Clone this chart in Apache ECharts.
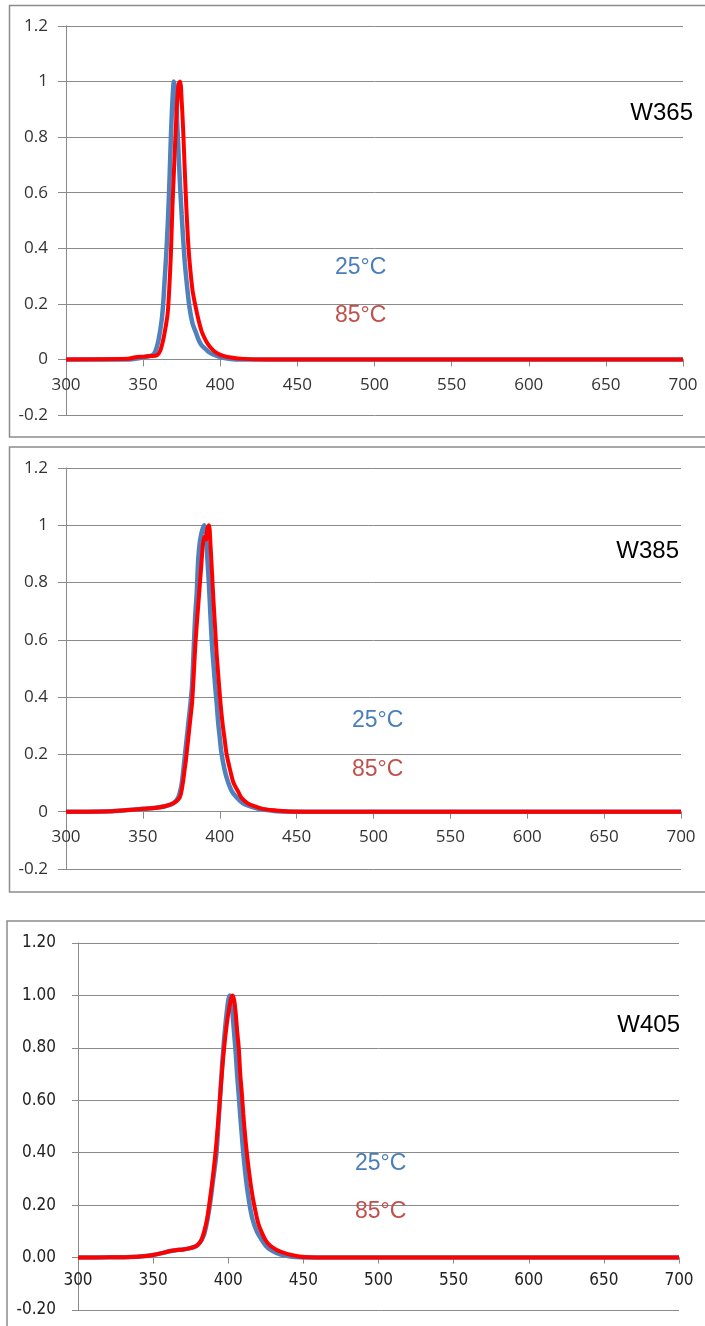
<!DOCTYPE html>
<html>
<head>
<meta charset="utf-8">
<script src="https://cdn.jsdelivr.net/npm/echarts@6/dist/echarts.min.js"></script>
<style>
html,body{margin:0;padding:0;background:#fff;}
#chart{width:705px;height:1326px;}
</style>
</head>
<body>
<div id="chart"></div>
<script>
// ---- Data (wavelength nm, relative intensity) ----
var panelNames = ['W365', 'W385', 'W405'];
var tempLabels = ['25°C', '85°C'];

var w365_25_nm  = [300,340,348,352,356,358,360,362,363,364,365,366,367,368,369,370,371,372,373,374,375,376,377,378,380,382,384,386,388,390,393,396,400,405,410,450,500,600,700];
var w365_25_val = [0,0,0.005,0.01,0.015,0.03,0.07,0.14,0.2,0.29,0.38,0.49,0.63,0.8,0.93,1.0,0.96,0.86,0.74,0.62,0.52,0.43,0.35,0.29,0.19,0.13,0.1,0.07,0.05,0.04,0.025,0.017,0.008,0.003,0,0,0,0,0];

var w365_85_nm  = [300,340,345,350,355,359,361,363,365,366,367,368,369,370,371,372,373,374,375,376,377,378,379,380,382,384,386,388,390,392,395,398,402,407,415,430,500,600,700];
var w365_85_val = [0,0.002,0.008,0.01,0.012,0.015,0.03,0.07,0.13,0.17,0.26,0.38,0.55,0.68,0.81,0.92,0.99,1.0,0.93,0.82,0.68,0.55,0.44,0.36,0.25,0.19,0.14,0.1,0.075,0.055,0.035,0.022,0.013,0.007,0.002,0,0,0,0];

var w385_25_nm  = [300,330,345,350,358,365,370,373,375,376,377,378,379,380,381,382,383,384,385,386,387,388,389,390,391,392,393,394,395,396,397,398,399,400,401,403,405,408,411,415,419,425,432,440,460,500,600,700];
var w385_25_val = [0,0.002,0.008,0.01,0.014,0.02,0.03,0.05,0.09,0.13,0.18,0.23,0.28,0.33,0.38,0.44,0.56,0.68,0.76,0.88,0.94,0.97,0.99,1.0,0.97,0.88,0.79,0.68,0.58,0.51,0.44,0.38,0.31,0.26,0.21,0.15,0.11,0.07,0.05,0.03,0.02,0.01,0.005,0.001,0,0,0,0];

var w385_85_nm  = [300,330,345,350,358,365,370,374,376,377,378,379,380,381,382,383,384,385,386,387,388,389,390,391,392,393,394,395,396,397,398,399,400,401,402,403,404.5,407,409,412,414,418,422,428,435,445,470,500,600,700];
var w385_85_val = [0,0.002,0.008,0.01,0.013,0.02,0.03,0.05,0.1,0.14,0.18,0.23,0.28,0.33,0.38,0.47,0.57,0.65,0.72,0.79,0.86,0.93,0.96,0.95,0.99,1.0,0.93,0.83,0.73,0.64,0.55,0.48,0.41,0.35,0.3,0.26,0.2,0.14,0.1,0.07,0.05,0.03,0.02,0.01,0.005,0.001,0,0,0,0];

var w405_25_nm  = [300,320,335,345,350,355,360,365,370,374,378,380,382,384,386,388,390,392,394,396,398,400,401,402,403,404,405,406,407,408,409,410,412,414,416,419,422,425,428,432,437,445,460,500,600,700];
var w405_25_val = [0,0.001,0.002,0.006,0.01,0.016,0.023,0.028,0.031,0.035,0.042,0.05,0.065,0.09,0.14,0.21,0.3,0.39,0.56,0.74,0.88,0.98,1.0,0.98,0.92,0.85,0.78,0.69,0.62,0.54,0.47,0.4,0.29,0.21,0.15,0.1,0.07,0.045,0.03,0.018,0.009,0.002,0,0,0,0];

var w405_85_nm  = [300,320,335,345,350,355,360,365,370,374,378,380,382,384,386,388,390,392,394,396,398,400,402,403,404,405,406,407,408,409,410,411,412,414,416,418,420,422,425,428,432,436,442,451,470,500,600,700];
var w405_85_val = [0,0.001,0.002,0.006,0.01,0.016,0.023,0.028,0.031,0.035,0.042,0.05,0.065,0.1,0.15,0.23,0.32,0.43,0.57,0.72,0.84,0.93,0.99,1.0,0.98,0.93,0.86,0.8,0.7,0.63,0.55,0.48,0.42,0.32,0.24,0.18,0.13,0.1,0.065,0.045,0.03,0.02,0.01,0.002,0,0,0,0];

// ---- helpers ----
function zip(xs, ys){ return xs.map(function(x,i){ return [x, ys[i]]; }); }

var BLUE = '#4F81BD', RED = '#FF0000';
var BLUE_TXT = '#4A7EBB', RED_TXT = '#C0504D';
var GRID_C = '#8a8a8a';
var FONT_A = '"Open Sans", "Liberation Sans", sans-serif';
var FONT_N = '"Liberation Sans Narrow", "DejaVu Sans Condensed", "Roboto Condensed", "Liberation Sans", sans-serif';
var FONT_T = '"Liberation Sans", Arial, sans-serif';
var Y_MIN = -0.2, Y_MAX = 1.2;

var grids = [
  {left: 66, top: 26, width: 617, height: 389},
  {left: 66, top: 468, width: 615, height: 401},
  {left: 78, top: 943, width: 601, height: 367}
];

function xAxisFor(i){
  var narrow = i === 2;
  // place the x axis at y = 0 (inside the grid) by shifting it up from the bottom
  var zeroOffset = -grids[i].height * (0 - Y_MIN) / (Y_MAX - Y_MIN);
  return {
    type: 'value', gridIndex: i, min: 300, max: 700, interval: 50,
    position: 'bottom', offset: zeroOffset,
    axisLine: {show: true, onZero: false, lineStyle: {color: GRID_C, width: 1}},
    axisTick: {show: true, length: narrow ? 6 : 7, lineStyle: {color: GRID_C}},
    splitLine: {show: false},
    axisLabel: {fontSize: narrow ? 17 : 17, color: narrow ? '#222' : '#333', fontFamily: narrow ? FONT_N : FONT_A, margin: narrow ? 15 : 17}
  };
}
function yAxisFor(i){
  var narrow = i === 2;
  return {
    type: 'value', gridIndex: i, min: Y_MIN, max: Y_MAX, interval: 0.2,
    axisLine: {show: true, lineStyle: {color: GRID_C, width: 1}},
    axisTick: {show: true, length: narrow ? 6 : 8, lineStyle: {color: GRID_C}},
    splitLine: {show: true, lineStyle: {color: GRID_C, width: 1}},
    axisLabel: {
      fontSize: 17, color: narrow ? '#222' : '#333',
      fontFamily: narrow ? FONT_N : FONT_A, margin: narrow ? 22 : 18,
      formatter: function(v){ return narrow ? (+v).toFixed(2) : String(+(+v).toFixed(1)); }
    }
  };
}

var pairs = [
  [w365_25_nm, w365_25_val, w365_85_nm, w365_85_val],
  [w385_25_nm, w385_25_val, w385_85_nm, w385_85_val],
  [w405_25_nm, w405_25_val, w405_85_nm, w405_85_val]
];

var series = [];
pairs.forEach(function(p, i){
  series.push({
    type: 'line', name: tempLabels[0], xAxisIndex: i, yAxisIndex: i,
    data: zip(p[0], p[1]), showSymbol: false, smooth: 0.3,
    lineStyle: {color: BLUE, width: 4.5}, z: 3
  });
  series.push({
    type: 'line', name: tempLabels[1], xAxisIndex: i, yAxisIndex: i,
    data: zip(p[2], p[3]), showSymbol: false, smooth: 0.3,
    lineStyle: {color: RED, width: 4}, z: 4
  });
});

// annotation positions
var textPos = [
  {name: [693, 113], t25: [335, 268], t85: [335, 316]},
  {name: [679, 551], t25: [352, 721], t85: [352, 770]},
  {name: [680, 1025], t25: [355, 1164], t85: [355, 1212]}
];
var frames = [
  {x: 9.5, y: 5.5, w: 740, h: 431.5},
  {x: 9.5, y: 447, w: 740, h: 445},
  {x: 7, y: 921, w: 740, h: 440}
];

var graphic = [];
frames.forEach(function(f){
  graphic.push({type: 'rect', shape: {x: f.x, y: f.y, width: f.w, height: f.h},
    style: {fill: 'none', stroke: '#8c8c8c', lineWidth: 1.5}, z: 1, silent: true});
});
textPos.forEach(function(tp, i){
  graphic.push({type: 'text', x: tp.name[0], y: tp.name[1], z: 10,
    style: {text: panelNames[i], fill: '#000', font: '24px ' + FONT_T, textAlign: 'right', textVerticalAlign: 'middle'}});
  graphic.push({type: 'text', x: tp.t25[0], y: tp.t25[1], z: 10,
    style: {text: tempLabels[0], fill: BLUE_TXT, font: '23px ' + FONT_T, textAlign: 'left', textVerticalAlign: 'middle'}});
  graphic.push({type: 'text', x: tp.t85[0], y: tp.t85[1], z: 10,
    style: {text: tempLabels[1], fill: RED_TXT, font: '23px ' + FONT_T, textAlign: 'left', textVerticalAlign: 'middle'}});
});

var chart = echarts.init(document.getElementById('chart'), null, {renderer: 'canvas'});
chart.setOption({
  animation: false,
  backgroundColor: '#fff',
  grid: grids,
  xAxis: [xAxisFor(0), xAxisFor(1), xAxisFor(2)],
  yAxis: [yAxisFor(0), yAxisFor(1), yAxisFor(2)],
  series: series,
  graphic: graphic
});
</script>
</body>
</html>
